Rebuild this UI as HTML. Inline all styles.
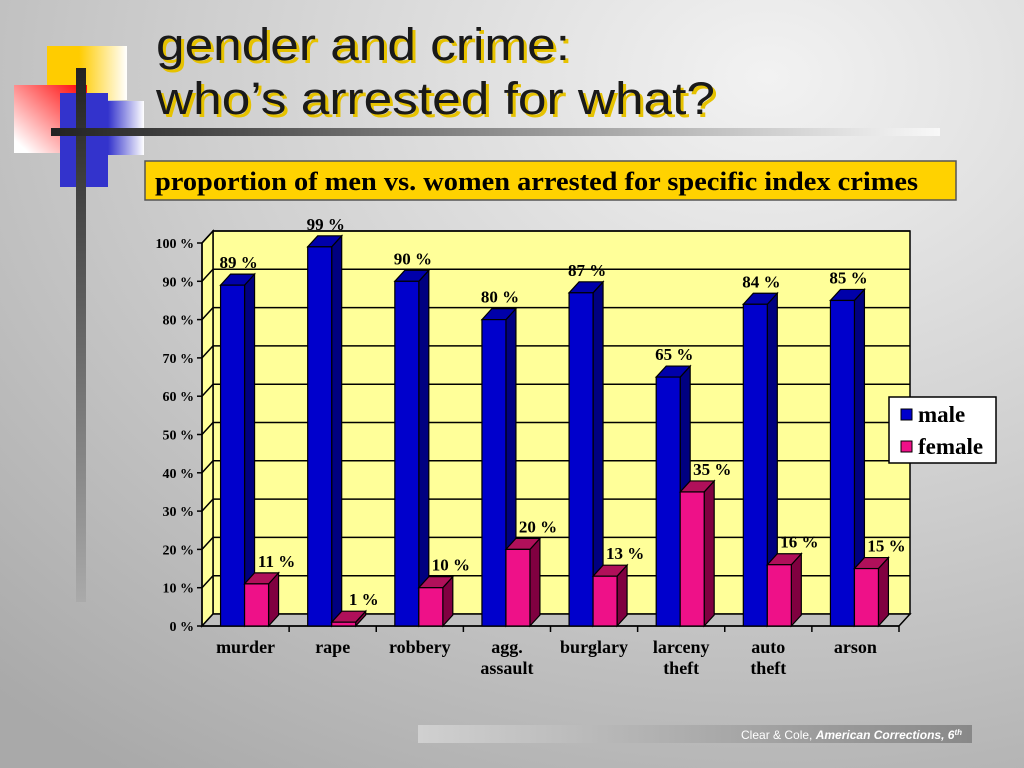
<!DOCTYPE html>
<html><head><meta charset="utf-8"><style>
html,body{margin:0;padding:0;width:1024px;height:768px;overflow:hidden}
svg{display:block}
</style></head><body>
<svg width="1024" height="768" viewBox="0 0 1024 768" xmlns="http://www.w3.org/2000/svg">
<defs>
<radialGradient id="bg" cx="0.75" cy="0.1" r="1.1">
<stop offset="0" stop-color="#f2f2f2"/><stop offset="0.5" stop-color="#cfcfcf"/><stop offset="1" stop-color="#a9a9a9"/></radialGradient>
<linearGradient id="yel" x1="0" x2="1"><stop offset="0.4" stop-color="#ffcc00"/><stop offset="1" stop-color="#fff"/></linearGradient>
<linearGradient id="red" x1="1" y1="0" x2="0" y2="1"><stop offset="0" stop-color="#ff0000"/><stop offset="0.9" stop-color="#fff"/></linearGradient>
<linearGradient id="blu" x1="0" x2="1"><stop offset="0" stop-color="#3333cc"/><stop offset="1" stop-color="#fff"/></linearGradient>
<linearGradient id="hbar" x1="0" x2="1"><stop offset="0" stop-color="#222"/><stop offset="1" stop-color="#f8f8f8"/></linearGradient>
<linearGradient id="vbar" x1="0" y1="0" x2="0" y2="1"><stop offset="0" stop-color="#222"/><stop offset="1" stop-color="#aaa"/></linearGradient>
<linearGradient id="foot" x1="0" x2="1"><stop offset="0" stop-color="#d0d0d0"/><stop offset="1" stop-color="#888"/></linearGradient>
</defs>
<rect width="1024" height="768" fill="url(#bg)"/>
<g>
<rect x="47" y="46" width="80" height="54" fill="url(#yel)"/>
<rect x="14" y="85" width="73" height="68" fill="url(#red)"/>
<rect x="60" y="93" width="48" height="94" fill="#3333cc"/>
<rect x="108" y="101" width="36" height="54" fill="url(#blu)"/>
<rect x="76" y="68" width="10" height="534" fill="url(#vbar)"/>
<rect x="51" y="128" width="889" height="8" fill="url(#hbar)"/>
</g>
<g font-family="Liberation Sans, sans-serif" font-size="45">
<text x="159" y="63" fill="#e6c200" textLength="414" lengthAdjust="spacingAndGlyphs">gender and crime:</text>
<text x="159" y="117" fill="#e6c200" textLength="559" lengthAdjust="spacingAndGlyphs">who’s arrested for what?</text>
<text x="156" y="60" fill="#1a1a1a" textLength="414" lengthAdjust="spacingAndGlyphs">gender and crime:</text>
<text x="156" y="114" fill="#1a1a1a" textLength="559" lengthAdjust="spacingAndGlyphs">who’s arrested for what?</text>
</g>
<rect x="145" y="161" width="811" height="39" fill="#ffd200" stroke="#555" stroke-width="1.5"/>
<text x="155" y="190" font-family="Liberation Serif, serif" font-weight="bold" font-size="26" textLength="763" lengthAdjust="spacingAndGlyphs">proportion of men vs. women arrested for specific index crimes</text>
<g id="chart"></g>
<g>
<rect x="889" y="397" width="107" height="66" fill="#fff" stroke="#000" stroke-width="1.5"/>
<rect x="901" y="409" width="11" height="11" fill="#0000cc" stroke="#000"/>
<text x="918" y="422" font-family="Liberation Serif, serif" font-weight="bold" font-size="23">male</text>
<rect x="901" y="441" width="11" height="11" fill="#ee1188" stroke="#000"/>
<text x="918" y="454" font-family="Liberation Serif, serif" font-weight="bold" font-size="23">female</text>
</g>
<rect x="418" y="725" width="554" height="18" fill="url(#foot)"/>
<text x="962" y="739" text-anchor="end" font-family="Liberation Sans, sans-serif" font-size="12" fill="#fff">Clear &amp; Cole, <tspan font-weight="bold" font-style="italic">American Corrections, 6<tspan font-size="8" dy="-4">th</tspan></tspan></text>
</svg>
<script>
const categories = [["murder"],["rape"],["robbery"],["agg.","assault"],["burglary"],["larceny","theft"],["auto","theft"],["arson"]];
const maleValues = [89,99,90,80,87,65,84,85];
const femaleValues = [11,1,10,20,13,35,16,15];
const tickLabels = ["0%","10%","20%","30%","40%","50%","60%","70%","80%","90%","100%"];
const NS="http://www.w3.org/2000/svg";
const g=document.getElementById('chart');
const X0=202,X1=899,Y0=626,H=383,DX=11,DY=12;
const cw=(X1-X0)/categories.length;
const y=v=>Y0-v/100*H;
function el(t,a,p){const e=document.createElementNS(NS,t);for(const k in a)e.setAttribute(k,a[k]);(p||g).appendChild(e);return e;}
const wall=el('polygon',{points:`${X0+DX},${y(100)-DY} ${X1+DX},${y(100)-DY} ${X1+DX},${Y0-DY} ${X0+DX},${Y0-DY}`,fill:'#ffff99',stroke:'#000','stroke-width':1.5});


const side=el('polygon',{points:`${X0},${y(100)} ${X0+DX},${y(100)-DY} ${X0+DX},${Y0-DY} ${X0},${Y0}`,fill:'#ffff99',stroke:'#000','stroke-width':1.5});


const floor=el('polygon',{points:`${X0},${Y0} ${X0+DX},${Y0-DY} ${X1+DX},${Y0-DY} ${X1},${Y0}`,fill:'#c0c0c0',stroke:'#000','stroke-width':1.5});


tickLabels.forEach((t,i)=>{
  const v=i*10;
  if(i>0){const gl=el('polyline',{points:`${X0},${y(v)} ${X0+DX},${y(v)-DY} ${X1+DX},${y(v)-DY}`,fill:'none',stroke:'#000','stroke-width':1.5});
  
  }
  el('line',{x1:X0-5,x2:X0,y1:y(v),y2:y(v),stroke:'#000','stroke-width':1.5});
  const tx=el('text',{x:X0-8,y:y(v)+5,'text-anchor':'end','font-family':'Liberation Serif, serif','font-weight':'bold','font-size':14});
  tx.textContent=t.replace('%',' %');
  
  
});
el('line',{x1:X0,x2:X0,y1:y(100),y2:Y0,stroke:'#000','stroke-width':1.5});
el('line',{x1:X0,x2:X1,y1:Y0,y2:Y0,stroke:'#000','stroke-width':1.5});
const labels=[];
function bar(x,w,v,front,sideC,topC,name,off){
  const t=y(v),gg=el('g',{});
  
  
  const d=10,dy=11;
  el('polygon',{points:`${x+w},${t} ${x+w+d},${t-dy} ${x+w+d},${Y0-dy} ${x+w},${Y0}`,fill:sideC,stroke:'#000','stroke-width':1.2},gg);
  el('polygon',{points:`${x},${t} ${x+d},${t-dy} ${x+w+d},${t-dy} ${x+w},${t}`,fill:topC,stroke:'#000','stroke-width':1.2},gg);
  el('rect',{x:x,y:t,width:w,height:Y0-t,fill:front,stroke:'#000','stroke-width':1.2},gg);
  labels.push([x+w/2+off,t-17,v]);
}
categories.forEach((c,i)=>{
  const cx=X0+cw*(i+0.5);
  el('line',{x1:X0+cw*(i+1),x2:X0+cw*(i+1),y1:Y0,y2:Y0+6,stroke:'#000','stroke-width':1.5});
  bar(cx-25,24,maleValues[i],'#0000cc','#000080','#0000aa','bar-male-'+i,6);
  bar(cx-1,24,femaleValues[i],'#ee1188','#800040','#b0105a','bar-female-'+i,20);
  c.forEach((line,j)=>{
    const tx=el('text',{x:cx,y:Y0+27+j*21,'text-anchor':'middle','font-family':'Liberation Serif, serif','font-weight':'bold','font-size':18});
    tx.textContent=line;
    
    
  });
});
labels.forEach(l=>{
  const lb=el('text',{x:l[0],y:l[1],'text-anchor':'middle','font-family':'Liberation Serif, serif','font-weight':'bold','font-size':17});
  lb.textContent=l[2]+' %';
  
  
});
</script>
</body></html>
